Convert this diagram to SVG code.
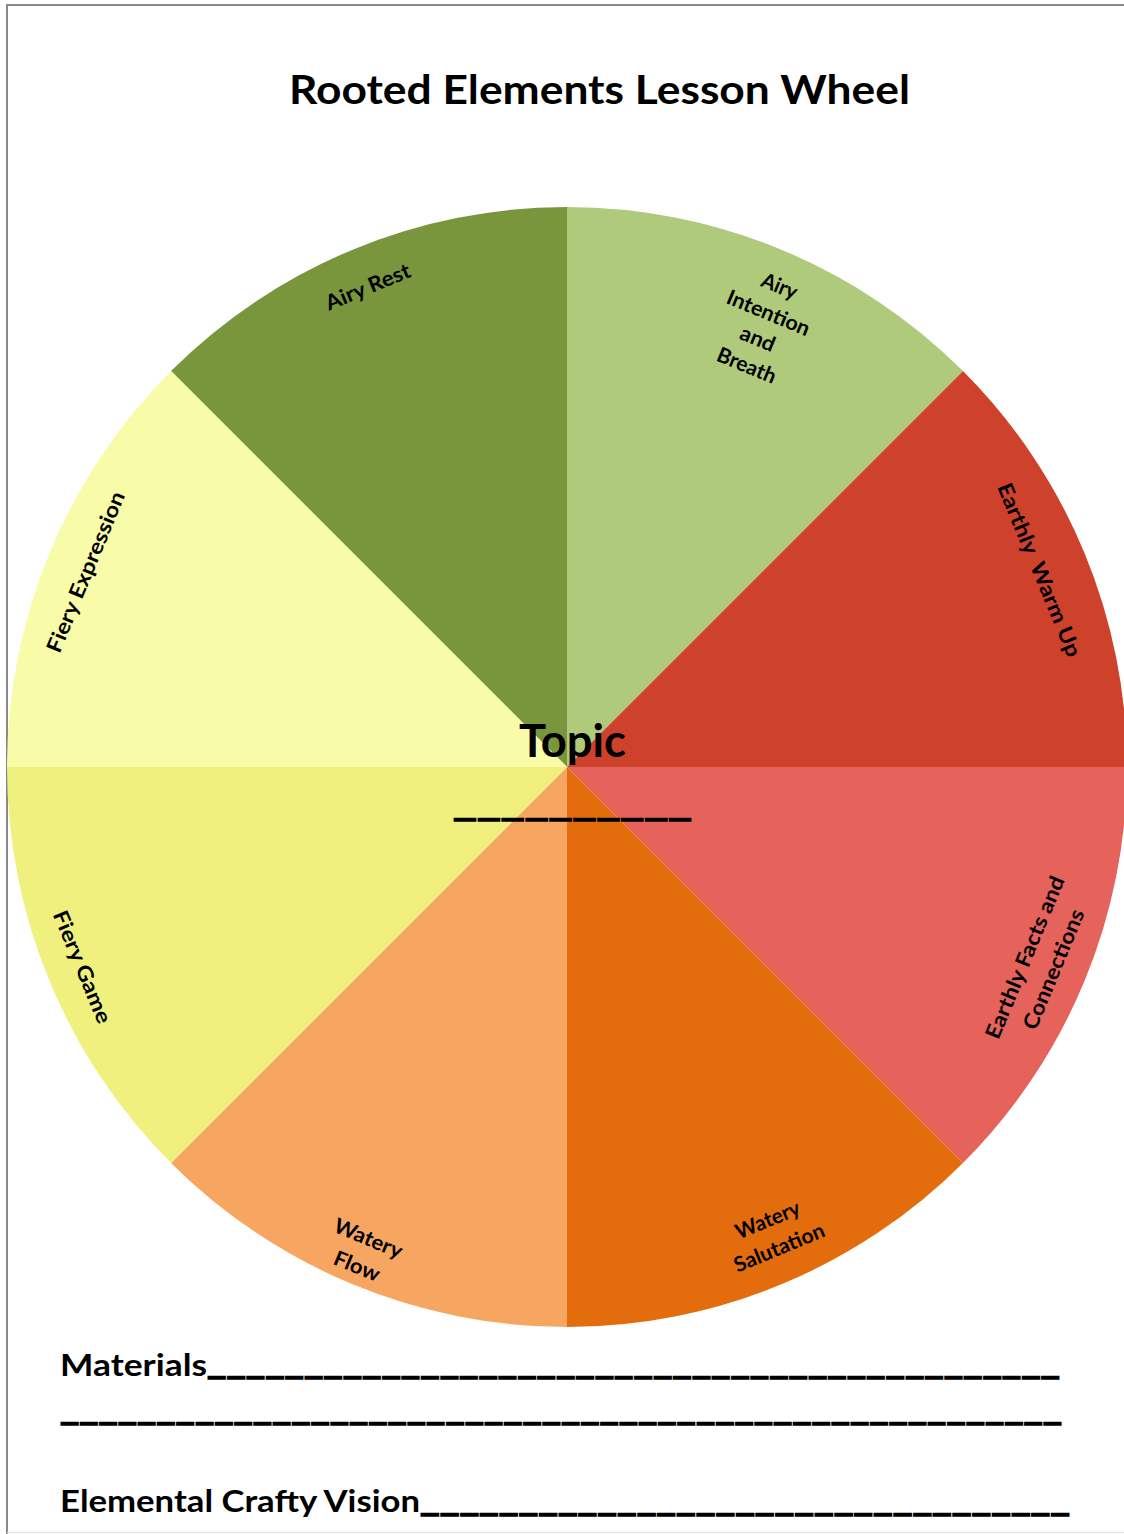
<svg xmlns="http://www.w3.org/2000/svg" width="1124" height="1534" viewBox="0 0 1124 1534">
<style>
.t{font-family:Lato,"Open Sans","Liberation Sans",sans-serif;font-weight:bold;fill:#000}
.lbl{font-size:21px;text-anchor:middle}
.us{stroke:#000;stroke-width:1.5}
</style>
<rect width="1124" height="1534" fill="#fff"/>
<g id="page-border" fill="none">
<path d="M7,1534 V5 H1124" stroke="#888" stroke-width="2"/>
<path d="M7,1532.5 H1124" stroke="#e4e4e4" stroke-width="1"/>
</g>
<text class="t" x="599.5" y="104" font-size="41" text-anchor="middle" textLength="621" lengthAdjust="spacingAndGlyphs">Rooted Elements Lesson Wheel</text>
<g id="wheel">
<g id="airy-rest">
<path d="M567,767 L171.02,371.02 A560,560 0 0 1 567,207 Z" fill="#7A963D"/>
<text class="t lbl" transform="translate(368,287) rotate(-22.5)" y="7" textLength="90" lengthAdjust="spacingAndGlyphs">Airy Rest</text>
</g>
<g id="airy-intention">
<path d="M567,767 L567,207 A560,560 0 0 1 962.98,371.02 Z" fill="#B0CA7C"/>
<g class="t lbl" transform="translate(763,326) rotate(22.5)">
<text y="-36" textLength="37" lengthAdjust="spacingAndGlyphs">Airy</text>
<text y="-7" textLength="88" lengthAdjust="spacingAndGlyphs">Intention</text>
<text y="21" textLength="36" lengthAdjust="spacingAndGlyphs">and</text>
<text y="50" textLength="62" lengthAdjust="spacingAndGlyphs">Breath</text>
</g>
</g>
<g id="earthly-warm-up">
<path d="M567,767 L962.98,371.02 A560,560 0 0 1 1127,767 Z" fill="#CE412B"/>
<text class="t lbl" transform="translate(1039,570) rotate(67.5)" y="7" textLength="186" lengthAdjust="spacingAndGlyphs" xml:space="preserve">Earthly  Warm Up</text>
</g>
<g id="earthly-facts">
<path d="M567,767 L1127,767 A560,560 0 0 1 962.98,1162.98 Z" fill="#E5635A"/>
<g class="t lbl" transform="translate(1039.5,963.5) rotate(-67.5)">
<text y="-8.5" textLength="174" lengthAdjust="spacingAndGlyphs">Earthly Facts and</text>
<text y="22.5" textLength="128" lengthAdjust="spacingAndGlyphs">Connections</text>
</g>
</g>
<g id="watery-salutation">
<path d="M567,767 L962.98,1162.98 A560,560 0 0 1 567,1327 Z" fill="#E36C0C"/>
<g class="t lbl" transform="translate(773.5,1234) rotate(-22.5)">
<text y="-8" textLength="68" lengthAdjust="spacingAndGlyphs">Watery</text>
<text y="22" textLength="96" lengthAdjust="spacingAndGlyphs">Salutation</text>
</g>
</g>
<g id="watery-flow">
<path d="M567,767 L567,1327 A560,560 0 0 1 171.02,1162.98 Z" fill="#F7A662"/>
<g class="t lbl" transform="translate(362.5,1252.5) rotate(22.5)">
<text y="-8" textLength="72" lengthAdjust="spacingAndGlyphs">Watery</text>
<text y="22" textLength="48" lengthAdjust="spacingAndGlyphs">Flow</text>
</g>
</g>
<g id="fiery-game">
<path d="M567,767 L171.02,1162.98 A560,560 0 0 1 7,767 Z" fill="#EFF07D"/>
<text class="t lbl" transform="translate(82,967) rotate(67.5)" y="7" textLength="120" lengthAdjust="spacingAndGlyphs">Fiery Game</text>
</g>
<g id="fiery-expression">
<path d="M567,767 L7,767 A560,560 0 0 1 171.02,371.02 Z" fill="#F8FCA8"/>
<text class="t lbl" transform="translate(86,572) rotate(-67.5)" y="7" textLength="172" lengthAdjust="spacingAndGlyphs">Fiery Expression</text>
</g>
</g>
<g id="topic">
<text class="t" x="572.5" y="757" font-size="45" text-anchor="middle" textLength="107" lengthAdjust="spacingAndGlyphs">Topic</text>
<text class="t us" x="453" y="816" font-size="30" textLength="239" lengthAdjust="spacingAndGlyphs">__________</text>
</g>
<g id="connectors"/>
<g id="footer">
<text class="t" x="60" y="1376" font-size="31" textLength="147" lengthAdjust="spacingAndGlyphs">Materials</text>
<text class="t us" x="207" y="1374" font-size="30" textLength="853" lengthAdjust="spacingAndGlyphs">____________________________________________</text>
<text class="t us" x="60" y="1420" font-size="30" textLength="1002" lengthAdjust="spacingAndGlyphs">____________________________________________________</text>
<text class="t" x="60" y="1512" font-size="31" textLength="360" lengthAdjust="spacingAndGlyphs">Elemental Crafty Vision</text>
<text class="t us" x="420" y="1511" font-size="30" textLength="650" lengthAdjust="spacingAndGlyphs">_________________________________</text>
</g>
</svg>
